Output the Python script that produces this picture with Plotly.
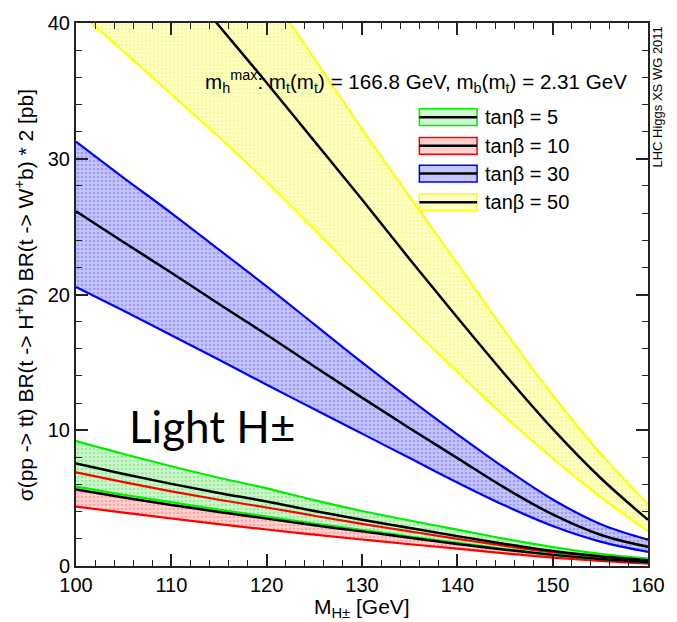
import plotly.graph_objects as go

# ---------------- data ----------------
mass = [100, 105, 110, 115, 120, 125, 130, 135, 140, 145, 150, 155, 160]

tb5_up = [9.2, 8.25, 7.35, 6.5, 5.72, 4.85, 4.05, 3.35, 2.68, 2.0, 1.4, 0.9, 0.55]
tb5_cen = [7.55, 6.78, 6.05, 5.38, 4.75, 4.05, 3.4, 2.8, 2.2, 1.62, 1.1, 0.72, 0.42]
tb5_low = [5.85, 5.25, 4.7, 4.15, 3.64, 3.13, 2.65, 2.17, 1.7, 1.25, 0.85, 0.54, 0.31]

tb10_up = [6.9, 6.18, 5.5, 4.88, 4.31, 3.7, 3.1, 2.55, 2.0, 1.48, 1.0, 0.65, 0.38]
tb10_cen = [5.63, 5.05, 4.5, 3.98, 3.49, 3.0, 2.55, 2.08, 1.62, 1.2, 0.82, 0.52, 0.3]
tb10_low = [4.38, 3.93, 3.5, 3.08, 2.69, 2.31, 1.95, 1.6, 1.28, 0.93, 0.62, 0.37, 0.17]

tb30_up = [31.27, 28.6, 26.0, 23.3, 20.6, 17.8, 15.0, 12.3, 9.7, 7.2, 4.9, 3.1, 1.94]
tb30_cen = [26.13, 23.85, 21.6, 19.3, 17.04, 14.7, 12.4, 10.15, 7.95, 5.75, 3.8, 2.3, 1.41]
tb30_low = [20.56, 18.8, 17.0, 15.2, 13.35, 11.55, 9.75, 7.95, 6.15, 4.45, 2.95, 1.8, 1.04]

tb50_up = [62.0, 57.2, 52.4, 47.5, 42.5, 37.4, 32.2, 27.2, 22.3, 17.3, 12.6, 8.3, 4.56]
tb50_cen = [52.3, 48.1, 44.0, 39.8, 35.6, 31.3, 27.0, 22.6, 18.3, 14.1, 10.1, 6.5, 3.4]
tb50_low = [41.0, 37.9, 34.75, 31.6, 28.3, 24.8, 21.2, 17.7, 14.3, 11.0, 7.95, 5.1, 2.57]

legend_labels = ["tanβ = 5", "tanβ = 10", "tanβ = 30", "tanβ = 50"]

# ---------------- styling ----------------
W, H = 677, 622
L, R, T, B = 76, 660.7, 16.7, 566
FONT = "Liberation Sans, Arial, Helvetica, sans-serif"

def px_x(p):
    return (p - L) / (R - L)

def px_y(p):
    return (B - p) / (B - T)

bands = [
    # (low, cen, up, line colour, bg colour, dot colour)
    (tb50_low, tb50_cen, tb50_up, "#ffff00", "#ffffc4", "#f2f270"),
    (tb30_low, tb30_cen, tb30_up, "#0000ff", "#c4c4ff", "#7878f0"),
    (tb10_low, tb10_cen, tb10_up, "#ff0000", "#ffd0d0", "#f08080"),
    (tb5_low, tb5_cen, tb5_up, "#00ee00", "#ccf7cc", "#70e070"),
]

fig = go.Figure()

# fills
for low, cen, up, lc, bg, fg in bands:
    fig.add_trace(go.Scatter(x=mass, y=low, mode="lines", line=dict(width=0, shape="spline"),
                             showlegend=False, hoverinfo="skip"))
    fig.add_trace(go.Scatter(x=mass, y=up, mode="lines", line=dict(width=0, shape="spline"),
                             fill="tonexty", fillcolor=bg,
                             fillpattern=dict(shape=".", fgcolor=fg, bgcolor=bg, size=4, solidity=0.35),
                             showlegend=False, hoverinfo="skip"))

# band edges
for low, cen, up, lc, bg, fg in bands:
    for arr in (low, up):
        fig.add_trace(go.Scatter(x=mass, y=arr, mode="lines",
                                 line=dict(color=lc, width=2.2, shape="spline"),
                                 showlegend=False, hoverinfo="skip"))

# central values
for low, cen, up, lc, bg, fg in bands:
    fig.add_trace(go.Scatter(x=mass, y=cen, mode="lines",
                             line=dict(color="black", width=2.5, shape="spline"),
                             showlegend=False, hoverinfo="skip"))

axis_common = dict(
    showgrid=False, zeroline=False, showline=True, linecolor="#222222", linewidth=2,
    mirror="ticks", ticks="inside", ticklen=12, tickwidth=1.5, tickcolor="#222222",
    tickfont=dict(family=FONT, size=20, color="black"),
    ticklabeloverflow="allow",
)

fig.update_xaxes(range=[100, 160], tick0=100, dtick=10,
                 minor=dict(dtick=2, ticks="inside", ticklen=6, tickwidth=1.2, tickcolor="#222222"),
                 **axis_common)
fig.update_yaxes(range=[0, 40], tick0=0, dtick=10,
                 minor=dict(dtick=2, ticks="inside", ticklen=6, tickwidth=1.2, tickcolor="#222222"),
                 **axis_common)

shapes = []
annotations = []

# manual legend (ROOT style: filled box with coloured border and black line)
legend_rows = [112, 141, 169, 198]
legend_cols = [bands[3], bands[2], bands[1], bands[0]]
for yrow, band, label in zip(legend_rows, legend_cols, legend_labels):
    low, cen, up, lc, bg, fg = band
    shapes.append(dict(type="rect", xref="paper", yref="paper",
                       x0=px_x(427), x1=px_x(486), y0=px_y(yrow + 8.5), y1=px_y(yrow - 8.5),
                       fillcolor=bg, line=dict(color=lc, width=1.5)))
    shapes.append(dict(type="line", xref="paper", yref="paper",
                       x0=px_x(427), x1=px_x(486), y0=px_y(yrow), y1=px_y(yrow),
                       line=dict(color="black", width=2.5)))
    annotations.append(dict(x=px_x(492), y=px_y(yrow), xref="paper", yref="paper",
                            text=label, showarrow=False, xanchor="left", yanchor="middle",
                            font=dict(family=FONT, size=20, color="black")))

annotations += [
    dict(x=px_x(206), y=px_y(76), xref="paper", yref="paper", showarrow=False,
         xanchor="left", yanchor="middle",
         text="m<sub>h</sub><sup>max</sup>: m<sub>t</sub>(m<sub>t</sub>) = 166.8 GeV, "
              "m<sub>b</sub>(m<sub>t</sub>) = 2.31 GeV",
         font=dict(family=FONT, size=20.6, color="black")),
    dict(x=px_x(670), y=px_y(92), xref="paper", yref="paper", showarrow=False,
         textangle=-90, xanchor="center", yanchor="middle",
         text="LHC Higgs XS WG 2011", font=dict(family=FONT, size=13, color="black")),
    dict(x=px_x(128), y=px_y(424), xref="paper", yref="paper", showarrow=False,
         xanchor="left", yanchor="middle",
         text="Light H±", font=dict(family="Lato, Open Sans, sans-serif", size=44, color="black")),
    dict(x=px_x(23), y=px_y(292), xref="paper", yref="paper", showarrow=False,
         textangle=-90, xanchor="center", yanchor="middle",
         text="σ(pp -> tt) BR(t -> H<sup>+</sup>b) BR(t -> W<sup>+</sup>b) * 2 [pb]",
         font=dict(family=FONT, size=21, color="black")),
    dict(x=px_x(368), y=px_y(608), xref="paper", yref="paper", showarrow=False,
         xanchor="center", yanchor="middle",
         text="M<sub>H±</sub> [GeV]", font=dict(family=FONT, size=21, color="black")),
]

fig.update_layout(
    width=W, height=H,
    margin=dict(l=L, r=W - R, t=T, b=H - B, pad=0),
    paper_bgcolor="white", plot_bgcolor="white",
    showlegend=False,
    shapes=shapes, annotations=annotations,
)

fig.write_html("out.html")
